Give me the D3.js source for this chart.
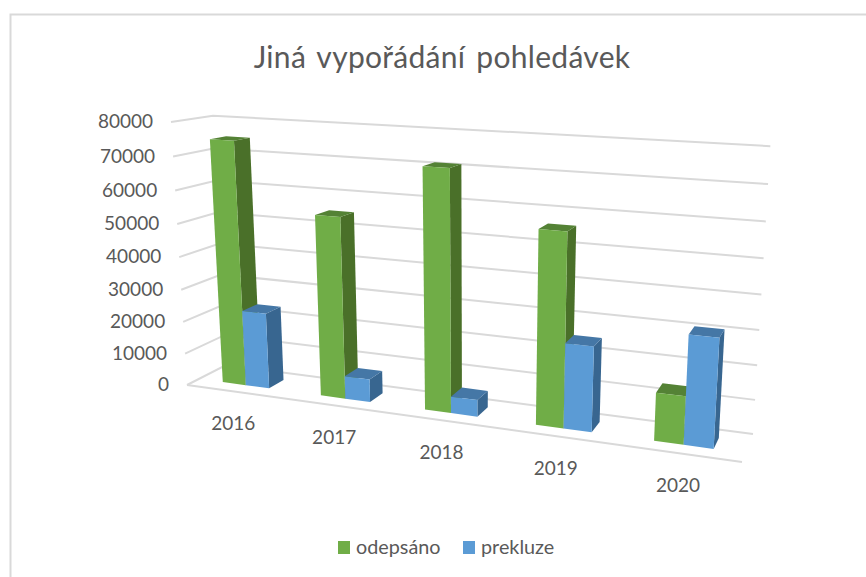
<!DOCTYPE html>
<html>
<head>
<meta charset="utf-8">
<script src="https://cdn.jsdelivr.net/npm/d3@7"></script>
<style>
  html, body { margin: 0; padding: 0; background: #fff; overflow: hidden; }
  text { font-family: Lato, "Open Sans", sans-serif; fill: #595959; }
</style>
</head>
<body>
<svg id="chart" width="866" height="577"></svg>
<script>
const years = ['2016', '2017', '2018', '2019', '2020'];
const seriesNames = ['odepsáno', 'prekluze'];
const odepsano = [74800, 54800, 71000, 56000, 13800];
const prekluze = [23500, 7000, 5000, 24800, 31000];
const yTicks = [0, 10000, 20000, 30000, 40000, 50000, 60000, 70000, 80000];

const seriesValues = [odepsano, prekluze];
const colors = [
  { front: '#70ad47', side: '#4a7029', top: '#548235' },
  { front: '#5b9bd5', side: '#386690', top: '#4577a6' }
];

// corners of the chart box on screen, and the perspective weights
const O = [187, 385];
const A = [742, 462];
const B = [226, 365];
const C = [171, 122];
const wx = -0.147;
const wd = 0.0562;
const wv = -0.053;

const project = (u, d, v) => {
  const w = 1 + wx * u + wd * d + wv * v;
  const at = i => (O[i]
    + u * ((1 + wx) * A[i] - O[i])
    + d * ((1 + wd) * B[i] - O[i])
    + v * ((1 + wv) * C[i] - O[i])) / w;
  return [at(0), at(1)];
};

const xScale = d3.scaleBand()
  .domain(years)
  .range([0, 1])
  .paddingInner(0.52)
  .paddingOuter(0.25);

const seriesScale = d3.scaleBand()
  .domain(seriesNames)
  .range([0, xScale.bandwidth()]);

const yScale = d3.scaleLinear()
  .domain([0, 80000])
  .range([0, 1]);

const depthNear = 0.3;
const depthFar = 0.7;

const svg = d3.select('#chart');
const line = d3.line();
const poly = pts => `${line(pts)}Z`;

// outer frame, runs off the right and bottom of the picture
svg.append('path')
  .attr('d', line([[10.5, 577], [10.5, 14.5], [866, 14.5]]))
  .attr('fill', 'none')
  .attr('stroke', '#d9d9d9')
  .attr('stroke-width', 2);

svg.append('text')
  .attr('x', 442)
  .attr('y', 68)
  .attr('text-anchor', 'middle')
  .attr('font-size', 30)
  .attr('letter-spacing', 0.3)
  .attr('word-spacing', 3)
  .text('Jiná vypořádání pohledávek');

// gridlines on the side and back walls
svg.append('g')
  .selectAll('path')
  .data(yTicks)
  .enter()
  .append('path')
  .attr('d', d => {
    const v = yScale(d);
    return line([project(0, 0, v), project(0, 1, v), project(1, 1, v)]);
  })
  .attr('fill', 'none')
  .attr('stroke', '#d9d9d9')
  .attr('stroke-width', 2);

svg.append('path')
  .attr('d', line([project(0, 0, 0), project(1, 0, 0)]))
  .attr('fill', 'none')
  .attr('stroke', '#d9d9d9')
  .attr('stroke-width', 2);

svg.append('g')
  .selectAll('text')
  .data(yTicks)
  .enter()
  .append('text')
  .attr('x', d => project(0, 0, yScale(d))[0] - 18)
  .attr('y', d => project(0, 0, yScale(d))[1])
  .attr('dy', '0.33em')
  .attr('text-anchor', 'end')
  .attr('font-size', 19)
  .text(d => d);

svg.append('g')
  .selectAll('text')
  .data(years)
  .enter()
  .append('text')
  .attr('x', d => project(xScale(d) + xScale.bandwidth() / 2, 0, 0)[0] - 1)
  .attr('y', d => project(xScale(d) + xScale.bandwidth() / 2, 0, 0)[1] + 32)
  .attr('dy', '0.35em')
  .attr('text-anchor', 'middle')
  .attr('font-size', 19)
  .text(d => d);

// bars, left to right, each one as front, side and top faces
const bars = [];
years.forEach((year, i) => {
  seriesNames.forEach((name, s) => {
    bars.push({
      u0: xScale(year) + seriesScale(name),
      u1: xScale(year) + seriesScale(name) + seriesScale.bandwidth(),
      v: yScale(seriesValues[s][i]),
      color: colors[s]
    });
  });
});

const barGroups = svg.append('g')
  .selectAll('g')
  .data(bars)
  .enter()
  .append('g');

barGroups.append('path')
  .attr('d', b => poly([
    project(b.u1, depthNear, 0), project(b.u1, depthFar, 0),
    project(b.u1, depthFar, b.v), project(b.u1, depthNear, b.v)
  ]))
  .attr('fill', b => b.color.side);

barGroups.append('path')
  .attr('d', b => poly([
    project(b.u0, depthNear, b.v), project(b.u1, depthNear, b.v),
    project(b.u1, depthFar, b.v), project(b.u0, depthFar, b.v)
  ]))
  .attr('fill', b => b.color.top);

barGroups.append('path')
  .attr('d', b => poly([
    project(b.u0, depthNear, 0), project(b.u1, depthNear, 0),
    project(b.u1, depthNear, b.v), project(b.u0, depthNear, b.v)
  ]))
  .attr('fill', b => b.color.front);

// legend
const legend = svg.append('g')
  .selectAll('g')
  .data(seriesNames)
  .enter()
  .append('g')
  .attr('transform', (d, i) => `translate(${i === 0 ? 338 : 463}, 541)`);

legend.append('rect')
  .attr('width', 12)
  .attr('height', 13)
  .attr('fill', (d, i) => colors[i].front);

legend.append('text')
  .attr('x', 18)
  .attr('y', 6.5)
  .attr('dy', '0.35em')
  .attr('font-size', 19.8)
  .text(d => d);
</script>
</body>
</html>
